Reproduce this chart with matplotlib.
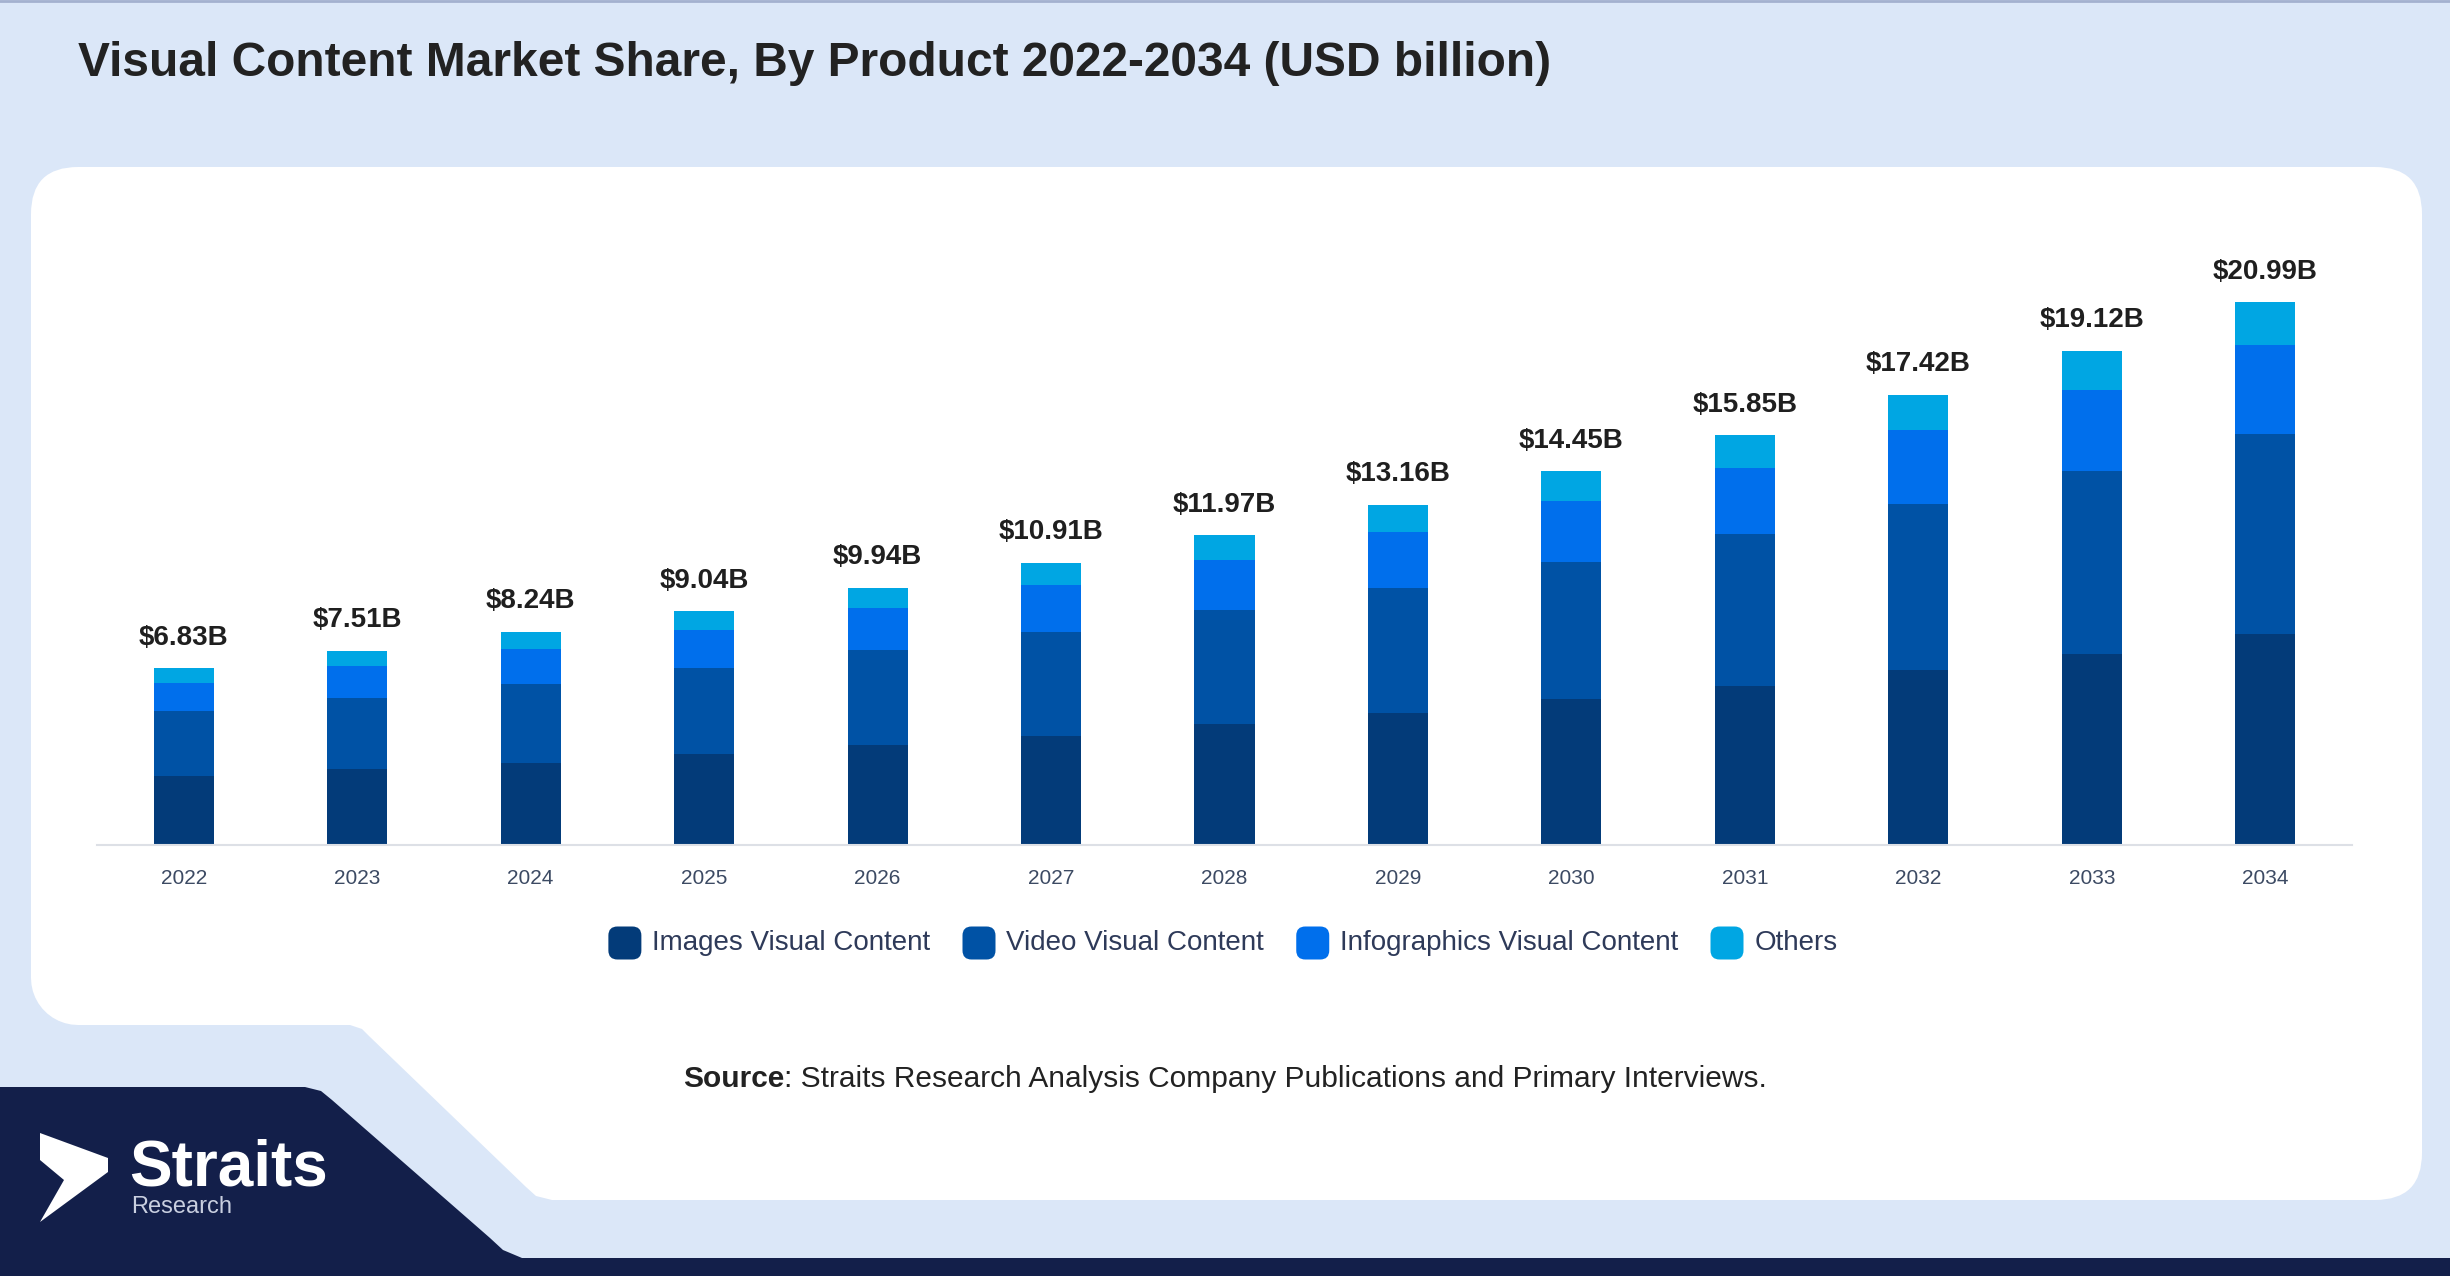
import matplotlib
matplotlib.use('Agg')
import matplotlib.pyplot as plt
from matplotlib.patches import FancyBboxPatch, Polygon
import numpy as np

# data (USD billion)
years = ['2022', '2023', '2024', '2025', '2026', '2027', '2028',
         '2029', '2030', '2031', '2032', '2033', '2034']
images = [2.66, 2.92, 3.19, 3.51, 3.85, 4.23, 4.66, 5.12, 5.63, 6.15, 6.76, 7.39, 8.16]
video = [2.53, 2.77, 3.02, 3.33, 3.68, 4.01, 4.41, 4.80, 5.31, 5.86, 6.43, 7.09, 7.72]
infographics = [1.09, 1.23, 1.36, 1.48, 1.62, 1.80, 1.96, 2.18, 2.37, 2.57, 2.85, 3.12, 3.45]
others = [0.55, 0.59, 0.67, 0.72, 0.79, 0.87, 0.94, 1.06, 1.14, 1.27, 1.38, 1.52, 1.66]
total_labels = ['$6.83B', '$7.51B', '$8.24B', '$9.04B', '$9.94B', '$10.91B', '$11.97B',
                '$13.16B', '$14.45B', '$15.85B', '$17.42B', '$19.12B', '$20.99B']
series_names = ['Images Visual Content', 'Video Visual Content',
                'Infographics Visual Content', 'Others']
colors = ['#033b79', '#0052a5', '#006fec', '#00a6e3']

W, H = 2450, 1276
BG = '#dbe7f8'
NAVY = '#131f4a'
plt.rcParams['font.family'] = ['Liberation Sans', 'DejaVu Sans']

fig = plt.figure(figsize=(W / 100, H / 100), dpi=100, facecolor=BG)

# background layer in pixel coords
bg = fig.add_axes([0, 0, 1, 1])
bg.set_xlim(0, W)
bg.set_ylim(H, 0)
bg.axis('off')
bg.plot([0, W], [1, 1], color='#a3b1cf', lw=2)

bg.add_patch(FancyBboxPatch((31, 167), 2391, 1033,
                            boxstyle='round,pad=0,rounding_size=47',
                            fc='white', ec='none'))

# cut-out in the lower left corner of the panel
t = np.linspace(0, np.pi / 2, 12)
arc = [(78 - 47 * np.sin(a), 978 + 47 * np.cos(a)) for a in t]
cut = [(0, 978), (31, 978)] + arc[::-1] + [(350, 1025), (362, 1029), (369, 1036),
                                           (526, 1187), (536, 1196), (552, 1200),
                                           (552, 1276), (0, 1276)]
bg.add_patch(Polygon(cut, closed=True, fc=BG, ec='none'))

navy = [(0, 1087), (305, 1087), (321, 1091), (332, 1100), (490, 1238), (503, 1250),
        (522, 1258), (W, 1258), (W, H), (0, H)]
bg.add_patch(Polygon(navy, closed=True, fc=NAVY, ec='none'))

# logo
arrow = [(40, 1133), (108, 1158), (108, 1172), (40, 1222), (64, 1180), (40, 1160)]
bg.add_patch(Polygon(arrow, closed=True, fc='white', ec='none'))
bg.text(129, 1186, 'Straits', fontsize=46, fontweight='bold', color='white',
        ha='left', va='baseline')
bg.text(131, 1213, 'Research', fontsize=17, color='#c9cfe0', ha='left', va='baseline')

# title
bg.text(78, 63, 'Visual Content Market Share, By Product 2022-2034 (USD billion)',
        fontsize=34.5, fontweight='bold', color='#222222', ha='left', va='center')

# chart
px_per_unit = 25.86
ax = fig.add_axes([97 / W, 1 - 845 / H, (2352 - 97) / W, (845 - 242) / H])
ax.patch.set_alpha(0)
x = np.arange(len(years))
bottom = np.zeros(len(years))
for vals, c, name in zip([images, video, infographics, others], colors, series_names):
    ax.bar(x, vals, width=0.346, bottom=bottom, color=c, label=name, zorder=2)
    bottom += np.array(vals)

for i in range(len(years)):
    ax.annotate(total_labels[i], (x[i], bottom[i]), xytext=(0, 17),
                textcoords='offset points', ha='center', va='baseline',
                fontsize=20, fontweight='bold', color='#1f1f1f')

ax.set_xlim(-0.5, len(years) - 0.5)
ax.set_ylim(0, (845 - 242) / px_per_unit)
ax.set_xticks(x)
ax.set_xticklabels(years)
ax.tick_params(axis='x', length=0, pad=17, labelsize=15, labelcolor='#3c4a63')
ax.set_yticks([])
for s in ['top', 'right', 'left']:
    ax.spines[s].set_visible(False)
ax.spines['bottom'].set_color('#dde0e6')
ax.spines['bottom'].set_linewidth(1.5)

# legend, drawn by hand
renderer = fig.canvas.get_renderer()
leg_y = 943
mk = 33
texts = []
widths = []
for name in series_names:
    tx = bg.text(0, leg_y, name, fontsize=20, color='#2e3a59', ha='left', va='center')
    texts.append(tx)
    widths.append(tx.get_window_extent(renderer).width)
gap_in, gap_out = 11, 32
total_w = sum(widths) + len(widths) * (mk + gap_in) + (len(widths) - 1) * gap_out
xpos = 1223 - total_w / 2
for tx, w, c in zip(texts, widths, colors):
    bg.add_patch(FancyBboxPatch((xpos, leg_y - mk / 2), mk, mk,
                                boxstyle='round,pad=0,rounding_size=9',
                                fc=c, ec='none'))
    tx.set_x(xpos + mk + gap_in)
    xpos += mk + gap_in + w + gap_out

# source
s1 = bg.text(0, 1079, 'Source', fontsize=21.5, fontweight='bold', color='#222222',
             ha='left', va='center')
s2 = bg.text(0, 1079, ': Straits Research Analysis Company Publications and Primary Interviews.',
             fontsize=21.5, color='#222222', ha='left', va='center')
w1 = s1.get_window_extent(renderer).width
w2 = s2.get_window_extent(renderer).width
start = 1225 - (w1 + w2) / 2
s1.set_x(start)
s2.set_x(start + w1)

fig.savefig('out.png', dpi=100, facecolor=fig.get_facecolor())
